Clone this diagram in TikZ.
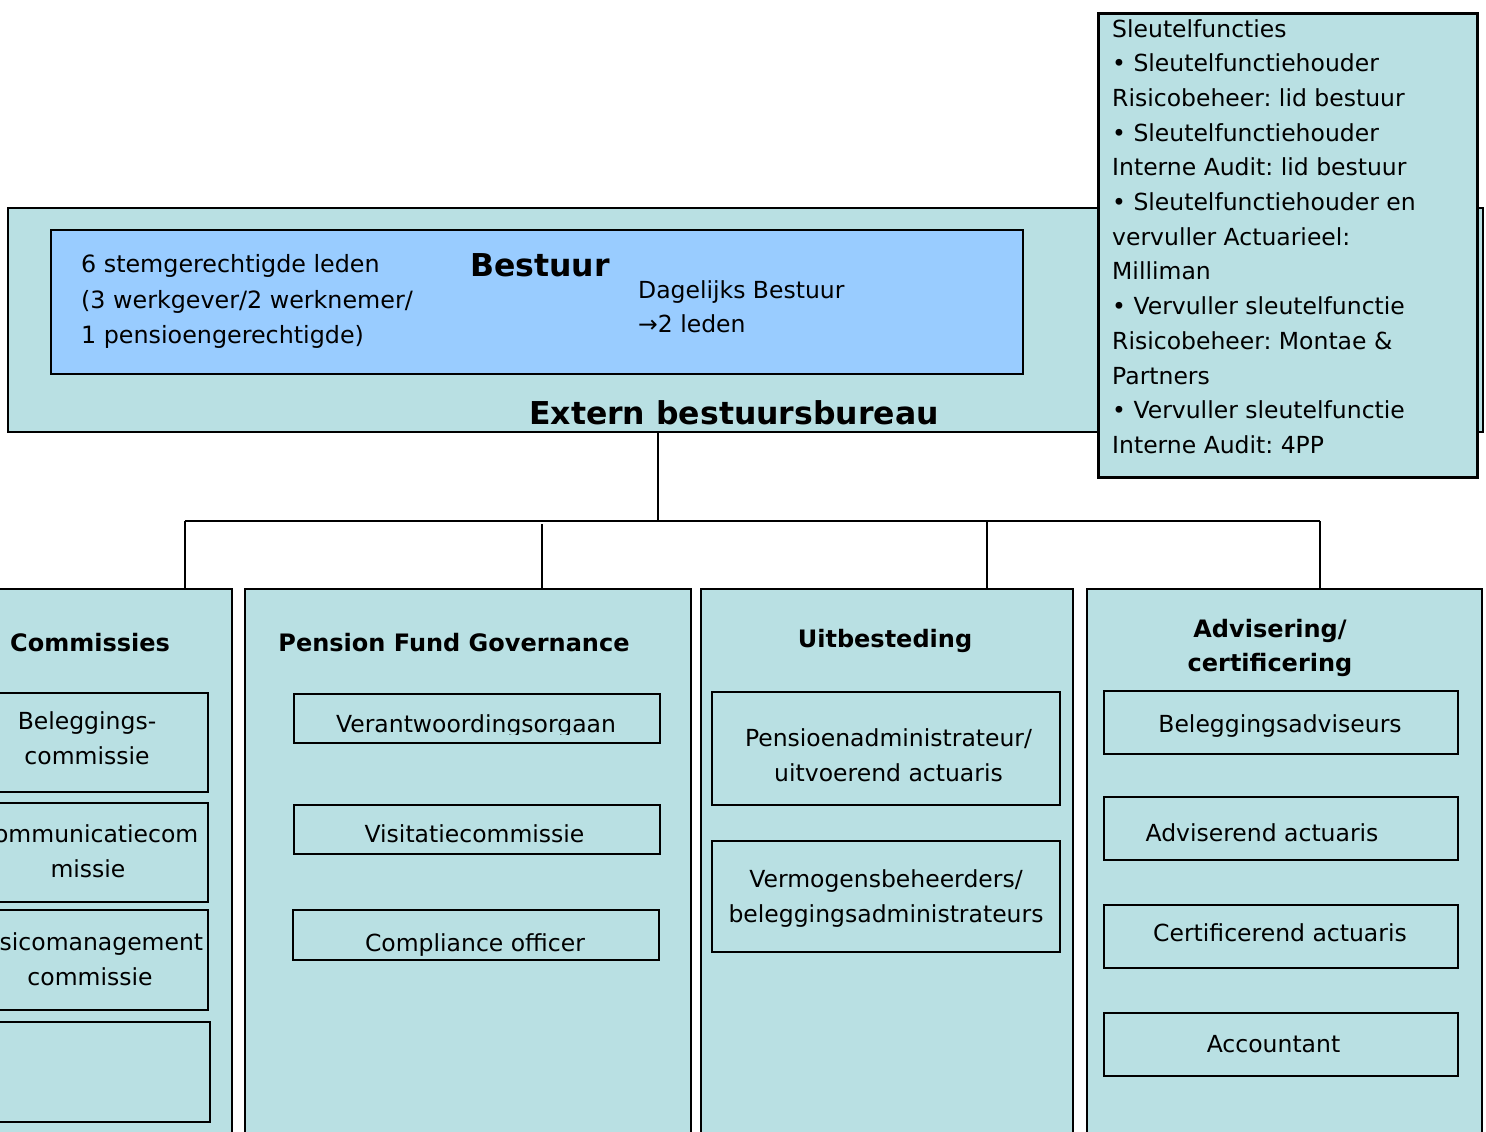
\documentclass[tikz,border=0pt]{standalone}
\usepackage{fontspec}
\setmainfont{DejaVu Sans}
\frenchspacing
\definecolor{tealbg}{HTML}{B9E0E3}
\definecolor{bestuurblue}{HTML}{99CCFF}
\begin{document}
\frenchspacing
\begin{tikzpicture}[x=1pt,y=-1pt,
  frame/.style={draw=black, line width=1.6pt, fill=tealbg, inner sep=0pt, anchor=north west},
  body/.style={font=\fontsize{23.5}{34.7}\selectfont, inner sep=0pt, align=center},
  bodyl/.style={font=\fontsize{23.5}{34.7}\selectfont, inner sep=0pt, align=left, anchor=north west},
  ttl/.style={font=\fontsize{24}{34}\selectfont\bfseries, inner sep=0pt, align=center},
  big/.style={font=\fontsize{31.5}{36}\selectfont\bfseries, inner sep=0pt, anchor=base west},
  conn/.style={draw=black, line width=1.6pt}
]
\useasboundingbox (0,0) rectangle (1486,1132);
\clip (0,0) rectangle (1486,1132);
\fill[white] (0,0) rectangle (1486,1132);

% top area
\node[frame, minimum width=1475pt, minimum height=224pt] (ebb) at (7,207) {};
\node[frame, fill=bestuurblue, minimum width=972pt, minimum height=144pt] (bestuur) at (50,229) {};
\node[frame, line width=2.6pt, minimum width=379pt, minimum height=464pt] (sleutel) at (1097,12) {};

\node[bodyl, font=\fontsize{23.8}{35.5}\selectfont] (leden) at (81,254.5) {6 stemgerechtigde leden\\(3 werkgever/2 werknemer/\\1 pensioengerechtigde)};
\node[big] (bestuurtxt) at (470,276) {Bestuur};
\node[bodyl] (dagelijks) at (638,280) {Dagelijks Bestuur\\→2 leden};
\node[big] (ebbtxt) at (529,424) {Extern bestuursbureau};

\node[bodyl] (sleuteltxt) at (1112,19) {Sleutelfuncties\\
• Sleutelfunctiehouder\\
Risicobeheer: lid bestuur\\
• Sleutelfunctiehouder\\
Interne Audit: lid bestuur\\
• Sleutelfunctiehouder en\\
vervuller Actuarieel:\\
Milliman\\
• Vervuller sleutelfunctie\\
Risicobeheer: Montae \&\\
Partners\\
• Vervuller sleutelfunctie\\
Interne Audit: 4PP};

% columns
\node[frame, minimum width=241pt, minimum height=560pt] (colA) at (-10,588) {};
\node[frame, minimum width=446pt, minimum height=560pt] (colB) at (244,588) {};
\node[frame, minimum width=372pt, minimum height=560pt] (colC) at (700,588) {};
\node[frame, minimum width=395pt, minimum height=560pt] (colD) at (1086,588) {};

\node[ttl, anchor=base] (ttlA) at (90,651) {Commissies};
\node[ttl, anchor=base] (ttlB) at (454,651) {Pension Fund Governance};
\node[ttl, anchor=base] (ttlC) at (885,647) {Uitbesteding};
\node[ttl] (ttlD) at (1270,648) {Advisering/\\certificering};

% sub boxes
\node[frame, minimum width=217pt, minimum height=99pt] (A1) at (-10,692) {};
\node[frame, minimum width=217pt, minimum height=99pt] (A2) at (-10,802) {};
\node[frame, minimum width=217pt, minimum height=100pt] (A3) at (-10,909) {};
\node[frame, minimum width=219pt, minimum height=100pt] (A4) at (-10,1021) {};

\node[frame, minimum width=366pt, minimum height=49pt] (B1) at (293,693) {};
\node[frame, minimum width=366pt, minimum height=49pt] (B2) at (293,804) {};
\node[frame, minimum width=366pt, minimum height=50pt] (B3) at (292,909) {};

\node[frame, minimum width=348pt, minimum height=113pt] (C1) at (711,691) {};
\node[frame, minimum width=348pt, minimum height=111pt] (C2) at (711,840) {};

\node[frame, minimum width=354pt, minimum height=63pt] (D1) at (1103,690) {};
\node[frame, minimum width=354pt, minimum height=63pt] (D2) at (1103,796) {};
\node[frame, minimum width=354pt, minimum height=63pt] (D3) at (1103,904) {};
\node[frame, minimum width=354pt, minimum height=63pt] (D4) at (1103,1012) {};

% texts in sub boxes
\node[body] (tA1) at (87,738.5) {Beleggings-\\commissie};
\node[body] (tA2) at (88,851.5) {Communicatiecom\\missie};
\node[body] (tA3) at (90,959.5) {Risicomanagement\\commissie};
\begin{scope}
  \clip (293,693) rectangle (659,734);
  \node[body, anchor=base] (tB1) at (476,732) {Verantwoordingsorgaan};
\end{scope}
\node[body, anchor=base] (tB2) at (474.5,842) {Visitatiecommissie};
\node[body, anchor=base] (tB3) at (475,951) {Compliance officer};
\node[body] (tC1) at (888.5,755) {Pensioenadministrateur/\\uitvoerend actuaris};
\node[body] (tC2) at (886,898.5) {Vermogensbeheerders/\\beleggingsadministrateurs};
\node[body, anchor=base] (tD1) at (1280,732) {Beleggingsadviseurs};
\node[body, anchor=base] (tD2) at (1262,841) {Adviserend actuaris};
\node[body, anchor=base] (tD3) at (1280,941) {Certificerend actuaris};
\node[body, anchor=base] (tD4) at (1273.5,1052) {Accountant};

% connectors
\coordinate (stemtop) at (658,431);
\coordinate (busL) at (185,521);
\coordinate (busR) at (1320,521);
\coordinate (bus2) at (542,524);
\coordinate (bus3) at (987,521);
\draw[conn] (stemtop) -- (stemtop |- busL);
\draw[conn] (busL) -- (busR);
\draw[conn] (busL) -- (busL |- colA.north);
\draw[conn] (bus2) -- (bus2 |- colB.north);
\draw[conn] (bus3) -- (bus3 |- colC.north);
\draw[conn] (busR) -- (busR |- colD.north);
\end{tikzpicture}
\end{document}
